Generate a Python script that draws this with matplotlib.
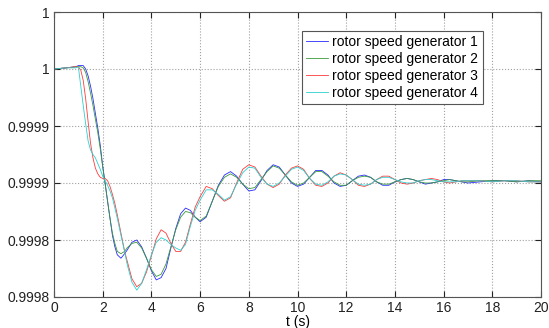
import numpy as np
import matplotlib
matplotlib.use("Agg")
from matplotlib import pyplot as plt

# time axis (s)
t = [0, 0.5, 0.9, 1.0, 1.1, 1.2, 1.3, 1.4, 1.5, 1.6, 1.7, 1.8, 1.9, 2.0, 2.1,
     2.2, 2.3, 2.4, 2.5, 2.6, 2.75, 2.9, 3.0, 3.2, 3.4, 3.6, 3.8, 4.0, 4.2,
     4.4, 4.6, 4.8, 5.0, 5.2, 5.4, 5.6, 5.8, 6.0,
     6.25, 6.5, 6.75, 7.0, 7.25, 7.5, 7.75, 8.0, 8.25, 8.5, 8.75, 9.0, 9.25,
     9.5, 9.75, 10.0, 10.25, 10.5, 10.75, 11.0, 11.25, 11.5, 11.75, 12.0,
     12.25, 12.5, 12.75, 13.0, 13.25, 13.5, 13.75, 14.0, 14.25, 14.5, 14.75,
     15.0, 15.25, 15.5, 15.75, 16.0, 16.25, 16.5, 16.75, 17.0,
     17.5, 18.0, 18.5, 19.0, 19.5, 20.0]

# rotor speeds (pu)
gen1 = [0.999950, 0.999951, 0.999952, 0.999953, 0.999953, 0.999953, 0.999950, 0.999944,
        0.999935, 0.999924, 0.999911, 0.999898, 0.999883, 0.999865, 0.999850, 0.999834,
        0.999819, 0.999804, 0.999794, 0.999787, 0.999784, 0.999788, 0.999791, 0.999798,
        0.999800, 0.999794, 0.999784, 0.999773, 0.999765, 0.999767, 0.999775, 0.999793,
        0.999810, 0.999823, 0.999828, 0.999826, 0.999820, 0.999816,
        0.999820, 0.999834, 0.999848, 0.999857, 0.999860, 0.999856, 0.999849, 0.999843,
        0.999844, 0.999852, 0.999861, 0.999866, 0.999864, 0.999857, 0.999850, 0.999847,
        0.999849, 0.999855, 0.999861, 0.999861, 0.999857, 0.999850, 0.999847, 0.999848,
        0.999852, 0.999856, 0.999857, 0.999855, 0.999851, 0.999848, 0.999848, 0.999851,
        0.999853, 0.999854, 0.999853, 0.999851, 0.999849, 0.999850, 0.999851, 0.999853,
        0.999853, 0.999852, 0.999851, 0.999850,
        0.999851, 0.999852, 0.999852, 0.999851, 0.999852, 0.999851]

gen2 = [0.999950, 0.999951, 0.999952, 0.999952, 0.999952, 0.999951, 0.999947, 0.999939,
        0.999929, 0.999918, 0.999906, 0.999894, 0.999880, 0.999864, 0.999849, 0.999834,
        0.999819, 0.999806, 0.999797, 0.999790, 0.999788, 0.999790, 0.999793, 0.999797,
        0.999798, 0.999793, 0.999784, 0.999774, 0.999768, 0.999770, 0.999779, 0.999794,
        0.999809, 0.999820, 0.999825, 0.999824, 0.999820, 0.999817,
        0.999821, 0.999834, 0.999847, 0.999855, 0.999858, 0.999855, 0.999849, 0.999845,
        0.999846, 0.999853, 0.999860, 0.999865, 0.999863, 0.999857, 0.999851, 0.999848,
        0.999850, 0.999855, 0.999860, 0.999860, 0.999856, 0.999851, 0.999848, 0.999848,
        0.999852, 0.999855, 0.999856, 0.999855, 0.999851, 0.999849, 0.999849, 0.999851,
        0.999853, 0.999854, 0.999853, 0.999851, 0.999850, 0.999850, 0.999851, 0.999852,
        0.999853, 0.999852, 0.999851, 0.999851,
        0.999852, 0.999852, 0.999852, 0.999851, 0.999852, 0.999852]

gen3 = [0.999950, 0.999951, 0.999952, 0.999952, 0.999949, 0.999940, 0.999924, 0.999904,
        0.999885, 0.999872, 0.999863, 0.999858, 0.999855, 0.999854, 0.999854, 0.999852,
        0.999847, 0.999840, 0.999832, 0.999822, 0.999806, 0.999790, 0.999782, 0.999766,
        0.999759, 0.999762, 0.999772, 0.999786, 0.999801, 0.999809, 0.999806, 0.999797,
        0.999790, 0.999790, 0.999798, 0.999814, 0.999829, 0.999838,
        0.999847, 0.999845, 0.999839, 0.999834, 0.999837, 0.999850, 0.999862, 0.999866,
        0.999864, 0.999856, 0.999849, 0.999846, 0.999849, 0.999857, 0.999863, 0.999865,
        0.999862, 0.999854, 0.999848, 0.999847, 0.999850, 0.999856, 0.999859, 0.999857,
        0.999853, 0.999848, 0.999847, 0.999849, 0.999853, 0.999856, 0.999856, 0.999853,
        0.999850, 0.999849, 0.999850, 0.999852, 0.999853, 0.999854, 0.999853, 0.999851,
        0.999850, 0.999851, 0.999852, 0.999852,
        0.999852, 0.999851, 0.999852, 0.999852, 0.999851, 0.999851]

gen4 = [0.999950, 0.999951, 0.999951, 0.999952, 0.999935, 0.999918, 0.999902, 0.999887,
        0.999879, 0.999875, 0.999872, 0.999867, 0.999862, 0.999856, 0.999852, 0.999848,
        0.999843, 0.999837, 0.999828, 0.999819, 0.999804, 0.999790, 0.999779, 0.999763,
        0.999756, 0.999762, 0.999774, 0.999787, 0.999798, 0.999802, 0.999800, 0.999796,
        0.999793, 0.999791, 0.999796, 0.999812, 0.999826, 0.999835,
        0.999844, 0.999844, 0.999840, 0.999835, 0.999838, 0.999849, 0.999859, 0.999864,
        0.999863, 0.999855, 0.999849, 0.999847, 0.999850, 0.999856, 0.999862, 0.999864,
        0.999861, 0.999854, 0.999849, 0.999848, 0.999851, 0.999856, 0.999858, 0.999857,
        0.999853, 0.999849, 0.999848, 0.999849, 0.999853, 0.999855, 0.999855, 0.999853,
        0.999851, 0.999850, 0.999850, 0.999852, 0.999853, 0.999853, 0.999852, 0.999851,
        0.999851, 0.999851, 0.999852, 0.999852,
        0.999852, 0.999851, 0.999852, 0.999852, 0.999851, 0.999851]

labels = ['rotor speed generator 1', 'rotor speed generator 2',
          'rotor speed generator 3', 'rotor speed generator 4']
colors = ['#2a2aff', '#3a9a3a', '#ff3a3a', '#2ad0d0']

xticks = list(range(0, 21, 2))
yticks = [0.99975, 0.99980, 0.99985, 0.99990, 0.99995, 1.0]
ytick_labels = ['0.9998', '0.9998', '0.9999', '0.9999', '1', '1']

plt.rcParams['font.family'] = ['Liberation Sans', 'DejaVu Sans']
plt.rcParams['font.size'] = 10

f = plt.figure(figsize=(5.49, 3.28), dpi=100)
ax = f.add_axes([54/549, 1-297/328, 487/549, 285/328])

for y, c, lab in zip([gen1, gen2, gen3, gen4], colors, labels):
    ax.plot(t, y, color=c, linewidth=0.6, label=lab)

ax.set_xlim(0, 20)
ax.set_ylim(0.99975, 1.0)
ax.set_xticks(xticks)
ax.set_yticks(yticks)
ax.set_yticklabels(ytick_labels)
ax.grid(True, linestyle=':', color='#a0a0a0', linewidth=0.8)
ax.tick_params(direction='in', length=4, top=True, right=True, colors='#222222', pad=3)
for s in ax.spines.values():
    s.set_color('#555555')
    s.set_linewidth(0.8)

ax.set_xlabel('t (s)', labelpad=0)

leg = ax.legend(loc='upper left', bbox_to_anchor=(0.509, 0.933), borderaxespad=0,
                fancybox=False, framealpha=1, edgecolor='#555555',
                handlelength=1.6, handletextpad=0.3, labelspacing=0.2, borderpad=0.3)
leg.get_frame().set_linewidth(0.8)

f.savefig('out.png', dpi=100)
